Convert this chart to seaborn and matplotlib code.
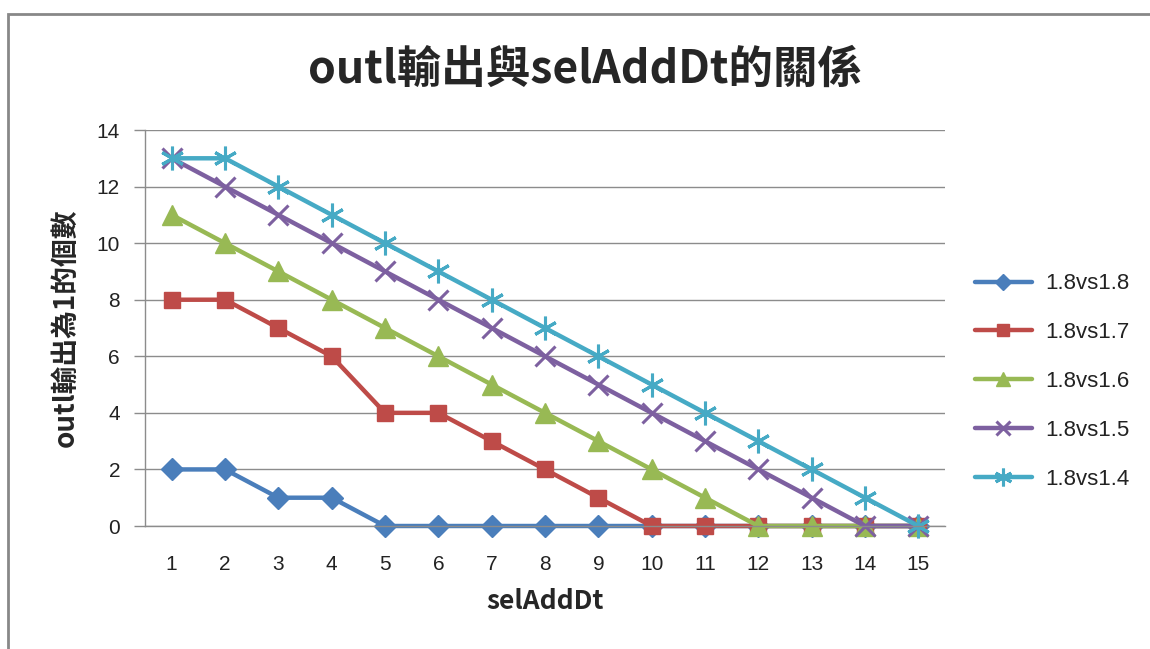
import matplotlib
matplotlib.use("Agg")
import matplotlib.pyplot as plt
import seaborn as sns
import pandas as pd
from matplotlib.patches import Rectangle

sns.set_theme(style="white")
plt.rcParams['font.family'] = ['Noto Sans CJK TC', 'DejaVu Sans']

sel_add_dt = list(range(1, 16))
series_names = ["1.8vs1.8", "1.8vs1.7", "1.8vs1.6", "1.8vs1.5", "1.8vs1.4"]
vs_18 = [2, 2, 1, 1, 0, 0, 0, 0, 0, 0, 0, 0, 0, 0, 0]
vs_17 = [8, 8, 7, 6, 4, 4, 3, 2, 1, 0, 0, 0, 0, 0, 0]
vs_16 = [11, 10, 9, 8, 7, 6, 5, 4, 3, 2, 1, 0, 0, 0, 0]
vs_15 = [13, 12, 11, 10, 9, 8, 7, 6, 5, 4, 3, 2, 1, 0, 0]
vs_14 = [13, 13, 12, 11, 10, 9, 8, 7, 6, 5, 4, 3, 2, 1, 0]
all_values = [vs_18, vs_17, vs_16, vs_15, vs_14]

colors = ["#4A7EBB", "#BE4B48", "#98B954", "#7D60A0", "#46AAC5"]
markers = ["D", "s", "^", "x", (6, 2, 0)]
msizes = [11, 12, 14, 14, 17]

frames = []
for name, vals in zip(series_names, all_values):
    frames.append(pd.DataFrame({"selAddDt": sel_add_dt, "count": vals, "series": name}))
df = pd.concat(frames, ignore_index=True)

fig = plt.figure(figsize=(11.5, 6.49), dpi=100)
ax = fig.add_axes([145 / 1150, 1 - 526 / 649, 800 / 1150, 396 / 649])

for name, color, mk, ms in zip(series_names, colors, markers, msizes):
    sub = df[df["series"] == name]
    sns.lineplot(data=sub, x="selAddDt", y="count", ax=ax, color=color,
                 marker=mk, markersize=ms, linewidth=3.2, label=name,
                 markeredgecolor=color, markeredgewidth=2.2 if mk in ("x", (6, 2, 0)) else 1,
                 markerfacecolor=color, clip_on=False)

ax.set_xlim(0.5, 15.5)
ax.set_ylim(0, 14)
ax.set_yticks(range(0, 15, 2))
ax.set_xticks(sel_add_dt)
ax.yaxis.grid(True, color="#8C8C8C", linewidth=1)
ax.set_axisbelow(True)
for s in ["top", "right"]:
    ax.spines[s].set_visible(False)
ax.spines["left"].set_color("#8C8C8C")
ax.spines["bottom"].set_color("#8C8C8C")
ax.spines["left"].set_linewidth(1)
ax.spines["bottom"].set_linewidth(1)
ax.tick_params(axis="y", which="both", left=True, length=8, width=1, color="#8C8C8C",
               labelsize=15, pad=10, labelcolor="#222222")
ax.tick_params(axis="x", bottom=False, labelsize=15, pad=15, labelcolor="#222222")
for lbl in ax.get_xticklabels() + ax.get_yticklabels():
    lbl.set_family(['Liberation Sans', 'DejaVu Sans'])

ax.set_xlabel("selAddDt", fontsize=19, fontweight="bold", labelpad=10)
ax.set_ylabel("outl輸出為1的個數", fontsize=20, fontweight="bold", labelpad=12)

fig.text(585 / 1150, 1 - 70 / 649, "outl輸出與selAddDt的關係", ha="center", va="center",
         fontsize=32, fontweight="bold")

leg = ax.legend(loc="center left", bbox_to_anchor=(1.012, 0.365), frameon=False,
                fontsize=16, handlelength=2.6, labelspacing=1.25, handletextpad=0.6,
                markerscale=0.75)
for t in leg.get_texts():
    t.set_family(['Liberation Sans', 'DejaVu Sans'])
    t.set_color("#222222")

fig.patches.append(Rectangle((8 / 1150, -0.05), 1.2, 1 - 14 / 649 + 0.05,
                             transform=fig.transFigure, fill=False,
                             edgecolor="#888888", linewidth=2))

fig.savefig("out.png", dpi=100)
